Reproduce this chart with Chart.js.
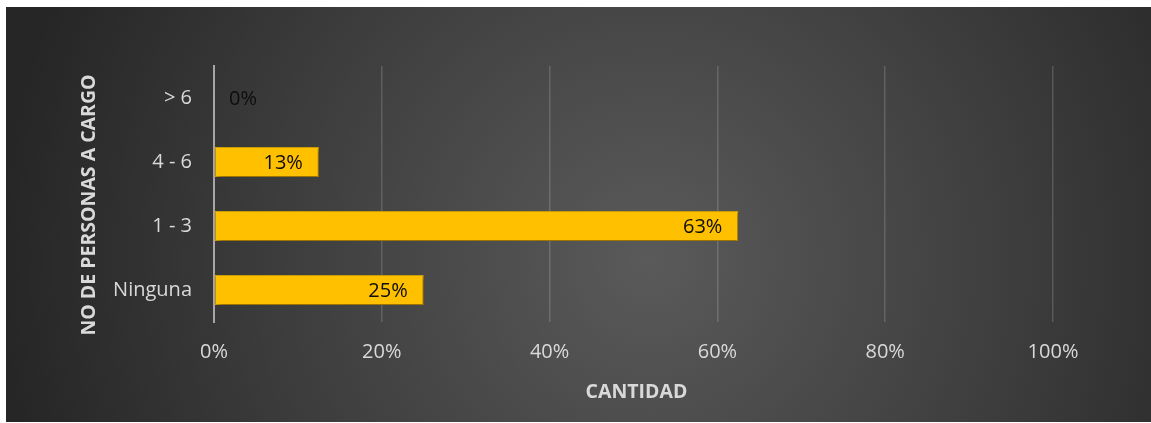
<!DOCTYPE html>
<html>
<head>
<meta charset="utf-8">
<script src="https://cdn.jsdelivr.net/npm/chart.js@4.4.0/dist/chart.umd.min.js"></script>
<style>
html,body{margin:0;padding:0;background:#fff;}
#wrap{position:absolute;left:0;top:0;width:1151px;height:423px;}
</style>
</head>
<body>
<div id="wrap"><canvas id="c" width="1151" height="423"></canvas></div>
<script>
const categories = ['> 6', '4 - 6', '1 - 3', 'Ninguna'];
const values = [0, 12.5, 62.5, 25];
const valueLabels = ['0%', '13%', '63%', '25%'];
const xTicks = [0, 20, 40, 60, 80, 100];
const xTitle = 'CANTIDAD';
const yTitle = 'NO DE PERSONAS A CARGO';

const FONT = '"Open Sans", Lato, sans-serif';

const bgPlugin = {
  id: 'bg',
  beforeDraw(chart) {
    const ctx = chart.ctx;
    ctx.save();
    ctx.fillStyle = '#ffffff';
    ctx.fillRect(0, 0, chart.width, chart.height);
    const g = ctx.createRadialGradient(650, 260, 0, 650, 260, 650);
    g.addColorStop(0, '#5a5a5a');
    g.addColorStop(0.55, '#3e3e3e');
    g.addColorStop(1, '#262626');
    ctx.fillStyle = g;
    ctx.fillRect(6, 7, chart.width - 6, chart.height - 8);
    ctx.restore();
  }
};

const shadowPlugin = {
  id: 'shadow',
  beforeDatasetsDraw(chart) {
    const ctx = chart.ctx;
    ctx.save();
    ctx.shadowColor = 'rgba(0,0,0,0.45)';
    ctx.shadowBlur = 5;
    ctx.shadowOffsetX = 2;
    ctx.shadowOffsetY = 2;
  },
  afterDatasetsDraw(chart) {
    chart.ctx.restore();
  }
};

const labelPlugin = {
  id: 'vlabels',
  afterDatasetsDraw(chart) {
    const ctx = chart.ctx;
    const meta = chart.getDatasetMeta(0);
    ctx.save();
    ctx.font = '20px ' + FONT;
    ctx.fillStyle = '#0d0d0d';
    ctx.textBaseline = 'middle';
    meta.data.forEach((bar, i) => {
      const v = values[i];
      if (v === 0) {
        ctx.textAlign = 'left';
        ctx.fillText(valueLabels[i], bar.base + 15, bar.y + 1);
      } else {
        ctx.textAlign = 'right';
        ctx.fillText(valueLabels[i], bar.x - 16, bar.y + 1);
      }
    });
    ctx.restore();
  }
};

const titlePlugin = {
  id: 'titles',
  afterDraw(chart) {
    const ctx = chart.ctx;
    const a = chart.chartArea;
    ctx.save();
    ctx.font = 'bold 19.5px ' + FONT;
    ctx.fillStyle = '#d9d9d9';
    ctx.textAlign = 'center';
    ctx.textBaseline = 'middle';
    ctx.fillText(xTitle, (a.left + a.right) / 2 + 3, 392);
    ctx.translate(89, 205);
    ctx.rotate(-Math.PI / 2);
    ctx.fillText(yTitle, 0, 0);
    ctx.restore();
  }
};

new Chart(document.getElementById('c'), {
  type: 'bar',
  data: {
    labels: categories,
    datasets: [{
      data: values,
      backgroundColor: '#ffc000',
      borderColor: '#d9a300',
      borderWidth: 1,
      barPercentage: 0.47,
      categoryPercentage: 1.0,
      borderSkipped: false
    }]
  },
  options: {
    indexAxis: 'y',
    responsive: false,
    animation: false,
    devicePixelRatio: 1,
    layout: { padding: { top: 66, right: 98, bottom: 0, left: 0 } },
    plugins: {
      legend: { display: false },
      tooltip: { enabled: false }
    },
    scales: {
      x: {
        min: 0, max: 100,
        afterBuildTicks(scale) { scale.ticks = xTicks.map(v => ({ value: v })); },
        afterFit(scale) { scale.height = 101; },
        grid: {
          color: (c) => c.tick && c.tick.value === 0 ? 'rgba(0,0,0,0)' : 'rgba(255,255,255,0.16)',
          lineWidth: 1.5,
          drawTicks: false
        },
        border: { display: false },
        ticks: {
          padding: 18,
          color: '#d9d9d9',
          font: { family: FONT, size: 20 },
          callback: (v) => v + '%'
        }
      },
      y: {
        afterFit(scale) { scale.width = 214; },
        grid: { display: false, drawTicks: false },
        border: { display: true, color: '#a6a6a6', width: 2 },
        ticks: {
          padding: 22,
          color: '#d9d9d9',
          font: { family: FONT, size: 20 }
        }
      }
    }
  },
  plugins: [bgPlugin, shadowPlugin, labelPlugin, titlePlugin]
});
</script>
</body>
</html>
